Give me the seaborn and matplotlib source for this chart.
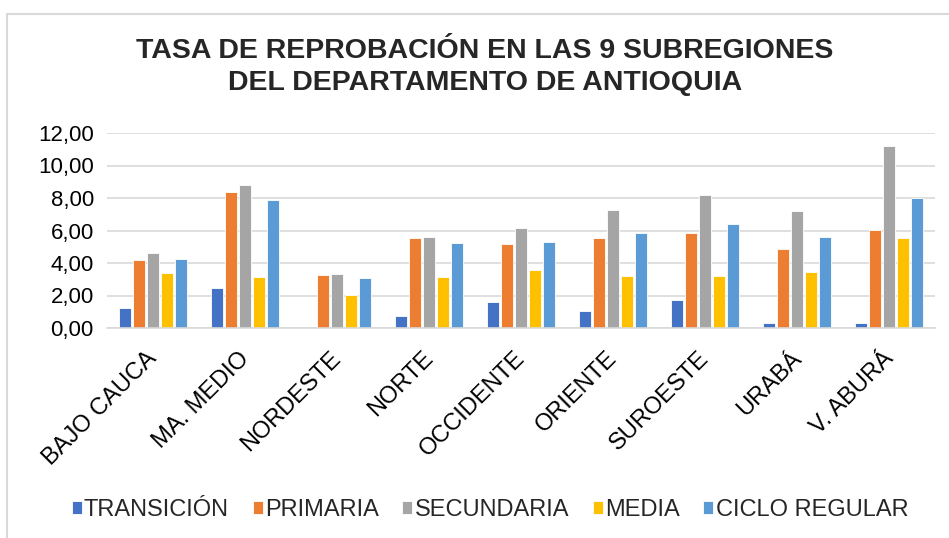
import matplotlib
matplotlib.use("Agg")
import matplotlib.pyplot as plt
import matplotlib.transforms as mtransforms
import seaborn as sns
import pandas as pd
from matplotlib.ticker import FuncFormatter
from matplotlib.patches import Rectangle

subregiones = ["BAJO CAUCA", "MA. MEDIO", "NORDESTE", "NORTE", "OCCIDENTE",
               "ORIENTE", "SUROESTE", "URABÁ", "V. ABURÁ"]
niveles = ["TRANSICIÓN", "PRIMARIA", "SECUNDARIA", "MEDIA", "CICLO REGULAR"]
transicion = [1.23, 2.45, 0.00, 0.71, 1.63, 1.02, 1.72, 0.33, 0.31]
primaria = [4.17, 8.38, 3.25, 5.54, 5.17, 5.54, 5.85, 4.88, 6.03]
secundaria = [4.64, 8.79, 3.31, 5.58, 6.15, 7.28, 8.16, 7.18, 11.17]
media = [3.37, 3.13, 2.04, 3.13, 3.58, 3.21, 3.21, 3.43, 5.54]
ciclo_regular = [4.25, 7.85, 3.10, 5.21, 5.29, 5.85, 6.38, 5.58, 7.99]
colores = ["#4472C4", "#ED7D31", "#A5A5A5", "#FFC000", "#5B9BD5"]

series = [transicion, primaria, secundaria, media, ciclo_regular]
rows = []
for nivel, vals in zip(niveles, series):
    for s, v in zip(subregiones, vals):
        rows.append({"Subregión": s, "Nivel": nivel, "Tasa": v})
df = pd.DataFrame(rows)

sns.set_theme(style="white")
plt.rcParams["font.family"] = ["Liberation Sans", "DejaVu Sans"]

fig = plt.figure(figsize=(9.49, 5.38), dpi=100)
ax = fig.add_axes([107/949, 1-328/538, 828/949, 195/538])

sns.barplot(data=df, x="Subregión", y="Tasa", hue="Nivel", order=subregiones,
            hue_order=niveles, palette=colores, width=0.76, gap=0.2,
            ax=ax, saturation=1, legend=True, edgecolor="white", linewidth=0.6)

ax.set_ylim(0, 12)
ax.set_xlim(-0.5, len(subregiones) - 0.5)
ax.set_yticks([0, 2, 4, 6, 8, 10, 12])
ax.yaxis.set_major_formatter(FuncFormatter(lambda v, p: f"{v:.2f}".replace(".", ",")))
ax.grid(axis="y", color="#D9D9D9", linewidth=1.2)
ax.set_axisbelow(True)
for sp in ["top", "right", "left"]:
    ax.spines[sp].set_visible(False)
ax.spines["bottom"].set_color("#D9D9D9")
ax.spines["bottom"].set_linewidth(1.2)
ax.set_xlabel("")
ax.set_ylabel("")
ax.tick_params(axis="y", labelsize=16, length=0, pad=9.5, labelcolor="black")
ax.tick_params(axis="x", labelsize=17, length=0, pad=14, labelcolor="black")
plt.setp(ax.get_xticklabels(), rotation=45, ha="right", rotation_mode="anchor")
offset = mtransforms.ScaledTranslation(-7/100, 0, fig.dpi_scale_trans)
for lbl in ax.get_xticklabels():
    lbl.set_transform(lbl.get_transform() + offset)

handles, labels = ax.get_legend_handles_labels()
ax.legend(handles, labels, loc="center", bbox_to_anchor=(490/949, 1-510/538),
          bbox_transform=fig.transFigure, ncol=5, frameon=False, fontsize=17,
          handlelength=0.42, handleheight=0.42, handletextpad=0.1, columnspacing=1.0)

fig.text(485/949, 1-67/538, "TASA DE REPROBACIÓN EN LAS 9 SUBREGIONES\nDEL DEPARTAMENTO DE ANTIOQUIA",
         ha="center", va="center", fontsize=20.5, fontweight="bold", linespacing=1.35)

fig.patches.append(Rectangle((7/949, -0.1), 1.2, 1 - 14/538 + 0.1, transform=fig.transFigure,
                             fill=False, edgecolor="#D9D9D9", linewidth=1.5))

fig.savefig("out.png", dpi=100)
